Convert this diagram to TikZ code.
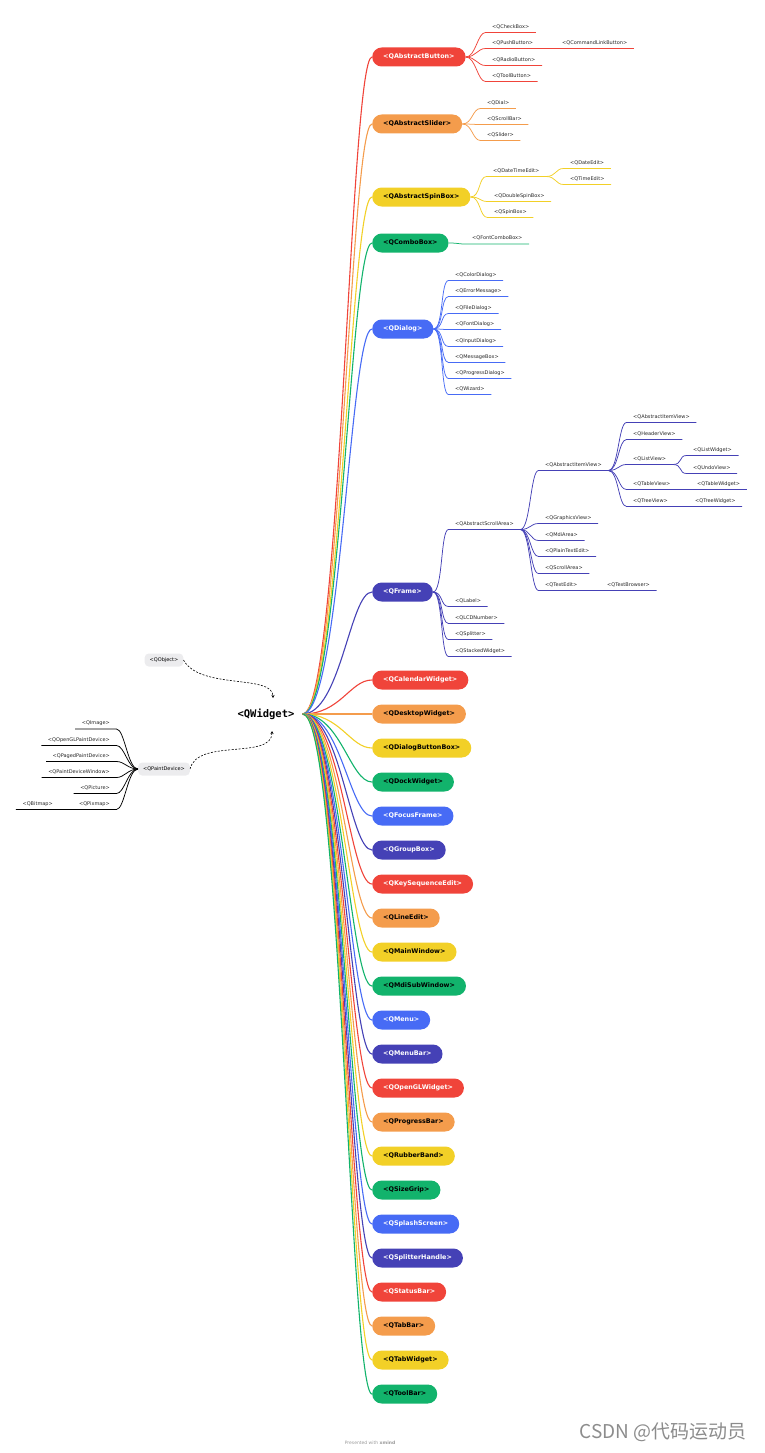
\documentclass[tikz,border=0pt]{standalone}
\usepackage{fontspec}
\setmainfont{DejaVu Sans}
\newfontfamily\monofont{DejaVu Sans Mono}
\newfontfamily\cjkfont{Noto Sans CJK SC}
\usepackage{tikz}
\usetikzlibrary{arrows.meta}

\definecolor{cRed}{HTML}{F0443A}
\definecolor{cOrange}{HTML}{F49C4C}
\definecolor{cYellow}{HTML}{F2D027}
\definecolor{cGreen}{HTML}{12B36C}
\definecolor{cBlue}{HTML}{476BF5}
\definecolor{cIndigo}{HTML}{4541B6}
\definecolor{baseGray}{HTML}{ECECEE}
\newcommand{\leaffont}{\fontsize{5}{6}\selectfont}
\newcommand{\pillfont}{\fontsize{6.4}{7.5}\selectfont\bfseries}

\begin{document}
\begin{tikzpicture}[
  x=1pt, y=-1pt, >={Stealth[length=3pt,width=3pt]},
  pill/.style={anchor=west, rounded corners=9.5pt, minimum height=19pt,
               inner xsep=11pt, font=\pillfont},
  rpill/.style={pill, fill=cRed, text=white},
  opill/.style={pill, fill=cOrange, text=black},
  ypill/.style={pill, fill=cYellow, text=black},
  gpill/.style={pill, fill=cGreen, text=black},
  bpill/.style={pill, fill=cBlue, text=white},
  ipill/.style={pill, fill=cIndigo, text=white},
  base/.style={fill=baseGray, rounded corners=4pt, minimum height=13pt,
               inner xsep=5pt, font=\leaffont},
  leaf/.style={anchor=south west, font=\leaffont, text=black!85,
               inner xsep=6.5pt, inner ysep=2.8pt, text height=3.7pt, text depth=1.1pt},
  lleaf/.style={leaf, anchor=south east},
  trunk/.style={draw=#1, line width=1.1pt,
                to path={.. controls +(38,0) and +(-22,0) .. (\tikztotarget)}},
  sub/.style={draw=#1, line width=0.75pt,
              to path={.. controls +(10,0) and +(-8,0) .. (\tikztotarget)}},
  lsub/.style={draw=black, line width=0.75pt,
               to path={.. controls +(-10,0) and +(8,0) .. (\tikztotarget)}},
  dep/.style={->, dash pattern=on 2pt off 1.5pt, line width=0.6pt},
]
\useasboundingbox (0,0) rectangle (765,1453);

% root and its bases
\node[font=\monofont\bfseries\fontsize{10.5}{12}\selectfont, inner xsep=8pt] (qw) at (266,714) {<QWidget>};
\node[base] (qobj) at (164,660) {<QObject>};
\node[base] (qpd)  at (164,769) {<QPaintDevice>};
\coordinate (in1) at (273,698);
\coordinate (in2) at (272,731);
\draw[dep] (qobj.east) .. controls (200,690) and (273,674) .. (in1);
\draw[dep] (qpd.east)  .. controls (197,738) and (272,760) .. (in2);

\node[lleaf] (img) at (116.5,729)   {<QImage>};
\node[lleaf] (ogl) at (116.5,745.5) {<QOpenGLPaintDevice>};
\node[lleaf] (ppd) at (116.5,761.5) {<QPagedPaintDevice>};
\node[lleaf] (pdw) at (116.5,777.5) {<QPaintDeviceWindow>};
\node[lleaf] (pic) at (116.5,793.5) {<QPicture>};
\node[lleaf] (pix) at (116.5,809.5) {<QPixmap>};
\node[lleaf] (bmp) at (59.5,809.5)  {<QBitmap>};
\draw[lsub] (qpd.west) to (img.south east) -- (img.south west);
\draw[lsub] (qpd.west) to (ogl.south east) -- (ogl.south west);
\draw[lsub] (qpd.west) to (ppd.south east) -- (ppd.south west);
\draw[lsub] (qpd.west) to (pdw.south east) -- (pdw.south west);
\draw[lsub] (qpd.west) to (pic.south east) -- (pic.south west);
\draw[lsub] (qpd.west) to (pix.south east) -- (pix.south west)
            -- (bmp.south east) -- (bmp.south west);

% branches with children
\node[rpill] (ab)  at (372,57)  {<QAbstractButton>};
\node[opill] (as)  at (372,124) {<QAbstractSlider>};
\node[ypill] (asb) at (372,197) {<QAbstractSpinBox>};
\node[gpill] (cbx) at (372,243) {<QComboBox>};
\node[bpill] (dlg) at (372,329) {<QDialog>};
\node[ipill] (frm) at (372,592) {<QFrame>};

% branches without children
\node[rpill] (cal) at (372,680)  {<QCalendarWidget>};
\node[opill] (dsk) at (372,714)  {<QDesktopWidget>};
\node[ypill] (dbb) at (372,748)  {<QDialogButtonBox>};
\node[gpill] (dck) at (372,782)  {<QDockWidget>};
\node[bpill] (ffr) at (372,816)  {<QFocusFrame>};
\node[ipill] (gbx) at (372,850)  {<QGroupBox>};
\node[rpill] (kse) at (372,884)  {<QKeySequenceEdit>};
\node[opill] (led) at (372,918)  {<QLineEdit>};
\node[ypill] (mwn) at (372,952)  {<QMainWindow>};
\node[gpill] (msw) at (372,986)  {<QMdiSubWindow>};
\node[bpill] (mnu) at (372,1020) {<QMenu>};
\node[ipill] (mbr) at (372,1054) {<QMenuBar>};
\node[rpill] (ogw) at (372,1088) {<QOpenGLWidget>};
\node[opill] (pgb) at (372,1122) {<QProgressBar>};
\node[ypill] (rbb) at (372,1156) {<QRubberBand>};
\node[gpill] (szg) at (372,1190) {<QSizeGrip>};
\node[bpill] (sps) at (372,1224) {<QSplashScreen>};
\node[ipill] (sph) at (372,1258) {<QSplitterHandle>};
\node[rpill] (stb) at (372,1292) {<QStatusBar>};
\node[opill] (tbb) at (372,1326) {<QTabBar>};
\node[ypill] (tbw) at (372,1360) {<QTabWidget>};
\node[gpill] (tlb) at (372,1394) {<QToolBar>};

\draw[trunk=cRed]    (qw.east) to (ab.west);
\draw[trunk=cOrange] (qw.east) to (as.west);
\draw[trunk=cYellow] (qw.east) to (asb.west);
\draw[trunk=cGreen]  (qw.east) to (cbx.west);
\draw[trunk=cBlue]   (qw.east) to (dlg.west);
\draw[trunk=cIndigo] (qw.east) to (frm.west);
\draw[trunk=cRed]    (qw.east) to (cal.west);
\draw[trunk=cOrange] (qw.east) to (dsk.west);
\draw[trunk=cYellow] (qw.east) to (dbb.west);
\draw[trunk=cGreen]  (qw.east) to (dck.west);
\draw[trunk=cBlue]   (qw.east) to (ffr.west);
\draw[trunk=cIndigo] (qw.east) to (gbx.west);
\draw[trunk=cRed]    (qw.east) to (kse.west);
\draw[trunk=cOrange] (qw.east) to (led.west);
\draw[trunk=cYellow] (qw.east) to (mwn.west);
\draw[trunk=cGreen]  (qw.east) to (msw.west);
\draw[trunk=cBlue]   (qw.east) to (mnu.west);
\draw[trunk=cIndigo] (qw.east) to (mbr.west);
\draw[trunk=cRed]    (qw.east) to (ogw.west);
\draw[trunk=cOrange] (qw.east) to (pgb.west);
\draw[trunk=cYellow] (qw.east) to (rbb.west);
\draw[trunk=cGreen]  (qw.east) to (szg.west);
\draw[trunk=cBlue]   (qw.east) to (sps.west);
\draw[trunk=cIndigo] (qw.east) to (sph.west);
\draw[trunk=cRed]    (qw.east) to (stb.west);
\draw[trunk=cOrange] (qw.east) to (tbb.west);
\draw[trunk=cYellow] (qw.east) to (tbw.west);
\draw[trunk=cGreen]  (qw.east) to (tlb.west);

% QAbstractButton
\node[leaf] (chk) at (485.5,32.5) {<QCheckBox>};
\node[leaf] (psh) at (485.5,48.5) {<QPushButton>};
\node[leaf] (clb) at (555.5,48.5) {<QCommandLinkButton>};
\node[leaf] (rad) at (485.5,65.5) {<QRadioButton>};
\node[leaf] (tlbt) at (485.5,81.5) {<QToolButton>};
\draw[sub=cRed] (ab.east) to (chk.south west) -- (chk.south east);
\draw[sub=cRed] (ab.east) to (psh.south west) -- (psh.south east)
                -- (clb.south west) -- (clb.south east);
\draw[sub=cRed] (ab.east) to (rad.south west) -- (rad.south east);
\draw[sub=cRed] (ab.east) to (tlbt.south west) -- (tlbt.south east);

% QAbstractSlider
\node[leaf] (dial) at (480.5,108.5) {<QDial>};
\node[leaf] (scb)  at (480.5,124.5) {<QScrollBar>};
\node[leaf] (sld)  at (480.5,140.5) {<QSlider>};
\draw[sub=cOrange] (as.east) to (dial.south west) -- (dial.south east);
\draw[sub=cOrange] (as.east) to (scb.south west) -- (scb.south east);
\draw[sub=cOrange] (as.east) to (sld.south west) -- (sld.south east);

% QAbstractSpinBox
\node[leaf] (dte) at (486.5,176.5) {<QDateTimeEdit>};
\node[leaf] (dted) at (563.5,168.5) {<QDateEdit>};
\node[leaf] (tmed) at (563.5,184.5) {<QTimeEdit>};
\node[leaf] (dsb) at (487.5,201.5) {<QDoubleSpinBox>};
\node[leaf] (spb) at (487.5,217.5) {<QSpinBox>};
\draw[sub=cYellow] (asb.east) to (dte.south west) -- (dte.south east);
\draw[sub=cYellow] (dte.south east) to (dted.south west) -- (dted.south east);
\draw[sub=cYellow] (dte.south east) to (tmed.south west) -- (tmed.south east);
\draw[sub=cYellow] (asb.east) to (dsb.south west) -- (dsb.south east);
\draw[sub=cYellow] (asb.east) to (spb.south west) -- (spb.south east);

% QComboBox
\node[leaf] (fcb) at (465.5,244) {<QFontComboBox>};
\draw[sub=cGreen] (cbx.east) to (fcb.south west) -- (fcb.south east);

% QDialog
\node[leaf] (cdlg) at (448.5,280.5) {<QColorDialog>};
\node[leaf] (emsg) at (448.5,296.5) {<QErrorMessage>};
\node[leaf] (fdlg) at (448.5,313.5) {<QFileDialog>};
\node[leaf] (ntd)  at (448.5,329.5) {<QFontDialog>};
\node[leaf] (idlg) at (448.5,346.5) {<QInputDialog>};
\node[leaf] (mbox) at (448.5,362.5) {<QMessageBox>};
\node[leaf] (pdlg) at (448.5,378.5) {<QProgressDialog>};
\node[leaf] (wiz)  at (448.5,394.5) {<QWizard>};
\draw[sub=cBlue] (dlg.east) to (cdlg.south west) -- (cdlg.south east);
\draw[sub=cBlue] (dlg.east) to (emsg.south west) -- (emsg.south east);
\draw[sub=cBlue] (dlg.east) to (fdlg.south west) -- (fdlg.south east);
\draw[sub=cBlue] (dlg.east) to (ntd.south west) -- (ntd.south east);
\draw[sub=cBlue] (dlg.east) to (idlg.south west) -- (idlg.south east);
\draw[sub=cBlue] (dlg.east) to (mbox.south west) -- (mbox.south east);
\draw[sub=cBlue] (dlg.east) to (pdlg.south west) -- (pdlg.south east);
\draw[sub=cBlue] (dlg.east) to (wiz.south west) -- (wiz.south east);

% QFrame
\node[leaf] (asa) at (448.5,529.5) {<QAbstractScrollArea>};
\node[leaf] (lbl) at (448.5,606.5) {<QLabel>};
\node[leaf] (lcd) at (448.5,623.5) {<QLCDNumber>};
\node[leaf] (spl) at (448.5,639.5) {<QSplitter>};
\node[leaf] (stk) at (448.5,656.5) {<QStackedWidget>};
\draw[sub=cIndigo] (frm.east) to (asa.south west) -- (asa.south east);
\draw[sub=cIndigo] (frm.east) to (lbl.south west) -- (lbl.south east);
\draw[sub=cIndigo] (frm.east) to (lcd.south west) -- (lcd.south east);
\draw[sub=cIndigo] (frm.east) to (spl.south west) -- (spl.south east);
\draw[sub=cIndigo] (frm.east) to (stk.south west) -- (stk.south east);

\node[leaf] (aiv) at (538.5,470.5) {<QAbstractItemView>};
\node[leaf] (gfx) at (538.5,523.5) {<QGraphicsView>};
\node[leaf] (mda) at (538.5,540.5) {<QMdiArea>};
\node[leaf] (pte) at (538.5,556.5) {<QPlainTextEdit>};
\node[leaf] (sca) at (538.5,573.5) {<QScrollArea>};
\node[leaf] (ted) at (538.5,590.5) {<QTextEdit>};
\node[leaf] (tbr) at (600.5,590.5) {<QTextBrowser>};
\draw[sub=cIndigo] (asa.south east) to (aiv.south west) -- (aiv.south east);
\draw[sub=cIndigo] (asa.south east) to (gfx.south west) -- (gfx.south east);
\draw[sub=cIndigo] (asa.south east) to (mda.south west) -- (mda.south east);
\draw[sub=cIndigo] (asa.south east) to (pte.south west) -- (pte.south east);
\draw[sub=cIndigo] (asa.south east) to (sca.south west) -- (sca.south east);
\draw[sub=cIndigo] (asa.south east) to (ted.south west) -- (ted.south east)
                   -- (tbr.south west) -- (tbr.south east);

\node[leaf] (aiv2) at (626.5,422.5) {<QAbstractItemView>};
\node[leaf] (hdv)  at (626.5,439.5) {<QHeaderView>};
\node[leaf] (lsv)  at (626.5,464.5) {<QListView>};
\node[leaf] (lsw)  at (686.5,455.5) {<QListWidget>};
\node[leaf] (udv)  at (686.5,473.5) {<QUndoView>};
\node[leaf] (tbv)  at (626.5,489.5) {<QTableView>};
\node[leaf] (tbwd) at (690.5,489.5) {<QTableWidget>};
\node[leaf] (trv)  at (626.5,506.5) {<QTreeView>};
\node[leaf] (trw)  at (688.5,506.5) {<QTreeWidget>};
\draw[sub=cIndigo] (aiv.south east) to (aiv2.south west) -- (aiv2.south east);
\draw[sub=cIndigo] (aiv.south east) to (hdv.south west) -- (hdv.south east);
\draw[sub=cIndigo] (aiv.south east) to (lsv.south west) -- (lsv.south east);
\draw[sub=cIndigo] (lsv.south east) to (lsw.south west) -- (lsw.south east);
\draw[sub=cIndigo] (lsv.south east) to (udv.south west) -- (udv.south east);
\draw[sub=cIndigo] (aiv.south east) to (tbv.south west) -- (tbv.south east)
                   -- (tbwd.south west) -- (tbwd.south east);
\draw[sub=cIndigo] (aiv.south east) to (trv.south west) -- (trv.south east)
                   -- (trw.south west) -- (trw.south east);

% footer
\node[font=\fontsize{4.5}{5}\selectfont, text=black!40] (xm) at (370,1443) {Presented with \textbf{xmind}};
\node[font=\cjkfont\fontsize{19}{22}\selectfont, text=black!45] (csdn) at (663,1432) {CSDN @代码运动员};
\end{tikzpicture}
\end{document}
